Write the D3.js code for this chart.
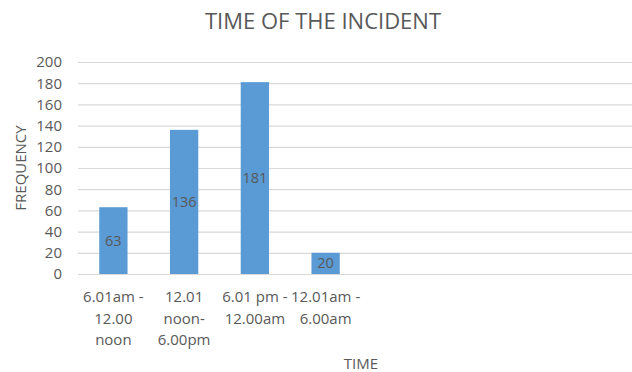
<!DOCTYPE html>
<html>
<head>
<meta charset="utf-8">
<script src="https://cdn.jsdelivr.net/npm/d3@7"></script>
<style>
  html, body { margin: 0; padding: 0; background: #fff; }
  svg { display: block; }
  text { font-family: "Open Sans", "Noto Sans", sans-serif; }
</style>
</head>
<body>
<svg id="chart" width="632" height="372"></svg>
<script>
// Incident counts by time of day
const categories = [
  ["6.01am -", "12.00", "noon"],
  ["12.01", "noon-", "6.00pm"],
  ["6.01 pm -", "12.00am"],
  ["12.01am -", "6.00am"]
];
const frequency = [63, 136, 181, 20];
const yTicks = [0, 20, 40, 60, 80, 100, 120, 140, 160, 180, 200];
const slotCount = 8; // category slots on the axis, only the first four hold data

const svg = d3.select("#chart");
const W = 632, H = 372;
const plotLeft = 78, plotRight = 644, plotTop = 62, plotBottom = 274;

const x = d3.scaleBand()
  .domain(d3.range(slotCount))
  .range([plotLeft, plotRight])
  .paddingInner(0.6)
  .paddingOuter(0.3);

const y = d3.scaleLinear().domain([0, 200]).range([plotBottom, plotTop]);

// gridlines
svg.append("g")
  .selectAll("line")
  .data(yTicks)
  .join("line")
  .attr("x1", plotLeft).attr("x2", W)
  .attr("y1", d => y(d) + 0.5).attr("y2", d => y(d) + 0.5)
  .attr("stroke", "#d9d9d9").attr("stroke-width", 1.2);

// y axis labels
const yAxis = d3.axisLeft(y).tickValues(yTicks).tickSize(0).tickPadding(0);
svg.append("g")
  .attr("transform", `translate(${plotLeft - 16},0)`)
  .call(yAxis)
  .call(g => g.select(".domain").remove())
  .call(g => g.selectAll("text")
    .attr("fill", "#595959")
    .style("font-size", "15px")
    .style("font-family", "'Open Sans', sans-serif"));

// bars
svg.append("g")
  .selectAll("rect")
  .data(frequency)
  .join("rect")
  .attr("x", (d, i) => x(i))
  .attr("y", d => y(d))
  .attr("width", x.bandwidth())
  .attr("height", d => y(0) - y(d))
  .attr("fill", "#5b9bd5");

// value labels, centred inside each bar
svg.append("g")
  .selectAll("text")
  .data(frequency)
  .join("text")
  .attr("x", (d, i) => x(i) + x.bandwidth() / 2)
  .attr("y", d => (y(d) + y(0)) / 2)
  .attr("dy", "0.35em")
  .attr("text-anchor", "middle")
  .attr("fill", "#595959")
  .style("font-size", "14.5px")
  .text(d => d);

// category labels
const catG = svg.append("g")
  .selectAll("text")
  .data(categories)
  .join("text")
  .attr("text-anchor", "middle")
  .attr("fill", "#595959")
  .style("font-size", "15px");
catG.each(function (lines, i) {
  d3.select(this).selectAll("tspan")
    .data(lines)
    .join("tspan")
    .attr("x", x(i) + x.bandwidth() / 2)
    .attr("y", (d, j) => 302 + j * 21.5)
    .text(d => d);
});

// titles
svg.append("text")
  .attr("x", 323).attr("y", 29)
  .attr("text-anchor", "middle")
  .attr("fill", "#595959")
  .style("font-size", "22px")
  .text("TIME OF THE INCIDENT");

svg.append("text")
  .attr("x", (plotLeft + plotRight) / 2).attr("y", 369)
  .attr("text-anchor", "middle")
  .attr("fill", "#595959")
  .style("font-size", "15px")
  .text("TIME");

svg.append("text")
  .attr("transform", `translate(26,${(plotTop + plotBottom) / 2}) rotate(-90)`)
  .attr("text-anchor", "middle")
  .attr("fill", "#595959")
  .style("font-size", "15px")
  .text("FREQUENCY");
</script>
</body>
</html>
